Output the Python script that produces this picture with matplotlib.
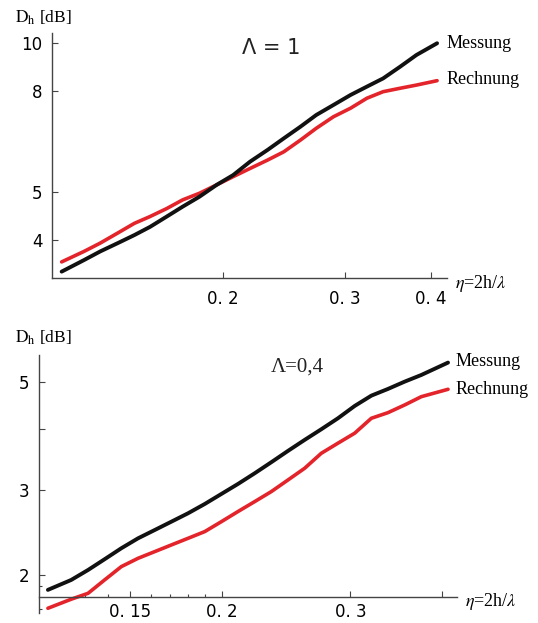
import matplotlib
matplotlib.use("Agg")
import matplotlib.pyplot as plt
from matplotlib.ticker import FixedLocator, FixedFormatter, NullLocator

plt.rcParams["mathtext.fontset"] = "stix"

# --- Lambda = 1 (oben) ---
ETA_TOP = [0.117, 0.126, 0.133, 0.141, 0.149, 0.157, 0.166, 0.175, 0.185,
           0.196, 0.207, 0.219, 0.232, 0.245, 0.259, 0.273, 0.289, 0.306,
           0.323, 0.341, 0.361, 0.381, 0.408]
MESSUNG_TOP = [3.45, 3.64, 3.79, 3.94, 4.09, 4.25, 4.46, 4.67, 4.89,
               5.17, 5.41, 5.76, 6.08, 6.42, 6.78, 7.16, 7.50, 7.86,
               8.17, 8.49, 8.97, 9.47, 10.0]
RECHNUNG_TOP = [3.61, 3.79, 3.94, 4.13, 4.32, 4.46, 4.63, 4.82, 4.97,
                5.17, 5.37, 5.58, 5.80, 6.03, 6.37, 6.73, 7.10, 7.39,
                7.74, 7.98, 8.11, 8.23, 8.40]

# --- Lambda = 0,4 (unten) ---
ETA_BOT = [0.1157, 0.1245, 0.1313, 0.1383, 0.1458, 0.1537, 0.1620, 0.1707,
           0.1799, 0.1896, 0.1998, 0.2105, 0.2219, 0.2338, 0.2464, 0.2597,
           0.2737, 0.2884, 0.3040, 0.3204, 0.3376, 0.3558, 0.3750, 0.4079]
MESSUNG_BOT = [1.862, 1.952, 2.047, 2.154, 2.270, 2.380, 2.476, 2.576,
               2.681, 2.802, 2.939, 3.082, 3.243, 3.418, 3.607, 3.801,
               3.999, 4.213, 4.467, 4.692, 4.844, 5.015, 5.177, 5.491]
RECHNUNG_BOT = [1.706, 1.781, 1.832, 1.952, 2.080, 2.164, 2.234, 2.306,
                2.380, 2.457, 2.576, 2.703, 2.834, 2.972, 3.141, 3.321,
                3.567, 3.742, 3.924, 4.213, 4.327, 4.488, 4.669, 4.836]

XTICKS_TOP = [0.2, 0.3, 0.4]
XLABELS_TOP = ["0. 2", "0. 3", "0. 4"]
YTICKS_TOP = [4, 5, 8, 10]
YLABELS_TOP = ["4", "5", "8", "10"]

XTICKS_BOT = [0.15, 0.2, 0.3, 0.4]
XLABELS_BOT = ["0. 15", "0. 2", "0. 3", ""]
XMINOR_BOT = [0.13, 0.14, 0.16, 0.17, 0.18, 0.19]
YTICKS_BOT = [2, 3, 4, 5]
YLABELS_BOT = ["2", "3", "", "5"]
YMINOR_BOT = [1.7, 1.9]

BLACK = "#111111"
RED = "#e3242b"
AXIS = "#444444"

fig = plt.figure(figsize=(5.38, 6.23), dpi=100)
W, H = 538, 623


def px_axes(left, top, right, bottom):
    return fig.add_axes([left / W, 1 - bottom / H, (right - left) / W, (bottom - top) / H])


def style_axes(ax, xlim, ylim, xaxis_at, xpad):
    ax.set_xscale("log")
    ax.set_yscale("log")
    ax.set_xlim(*xlim)
    ax.set_ylim(*ylim)
    for s in ["top", "right"]:
        ax.spines[s].set_visible(False)
    ax.spines["bottom"].set_position(("data", xaxis_at))
    for s in ["left", "bottom"]:
        ax.spines[s].set_color(AXIS)
        ax.spines[s].set_linewidth(1.0)
    ax.tick_params(which="both", direction="in", color=AXIS, width=0.8)
    ax.tick_params(which="major", length=4)
    ax.tick_params(which="minor", length=2.5)
    ax.tick_params(axis="x", pad=xpad, labelsize=12)
    ax.tick_params(axis="y", pad=7, labelsize=12)
    ax.patch.set_alpha(0)


# oberes Diagramm
ax1 = px_axes(52, 33, 447, 278)
style_axes(ax1, (0.1133, 0.4217), (3.349, 10.49), 3.349, 9)
ax1.plot(ETA_TOP, RECHNUNG_TOP, color=RED, lw=2.6, solid_capstyle="round")
ax1.plot(ETA_TOP, MESSUNG_TOP, color=BLACK, lw=2.8, solid_capstyle="round")
ax1.xaxis.set_major_locator(FixedLocator(XTICKS_TOP))
ax1.xaxis.set_major_formatter(FixedFormatter(XLABELS_TOP))
ax1.xaxis.set_minor_locator(NullLocator())
ax1.yaxis.set_major_locator(FixedLocator(YTICKS_TOP))
ax1.yaxis.set_major_formatter(FixedFormatter(YLABELS_TOP))
ax1.yaxis.set_minor_locator(NullLocator())

# unteres Diagramm
ax2 = px_axes(39, 355, 457, 613)
style_axes(ax2, (0.1125, 0.4196), (1.668, 5.693), 1.798, 4)
ax2.plot(ETA_BOT, RECHNUNG_BOT, color=RED, lw=2.6, solid_capstyle="round")
ax2.plot(ETA_BOT, MESSUNG_BOT, color=BLACK, lw=2.8, solid_capstyle="round")
ax2.xaxis.set_major_locator(FixedLocator(XTICKS_BOT))
ax2.xaxis.set_major_formatter(FixedFormatter(XLABELS_BOT))
ax2.xaxis.set_minor_locator(FixedLocator(XMINOR_BOT))
ax2.xaxis.set_minor_formatter(FixedFormatter([""] * len(XMINOR_BOT)))
ax2.yaxis.set_major_locator(FixedLocator(YTICKS_BOT))
ax2.yaxis.set_major_formatter(FixedFormatter(YLABELS_BOT))
ax2.yaxis.set_minor_locator(FixedLocator(YMINOR_BOT))
ax2.yaxis.set_minor_formatter(FixedFormatter([""] * len(YMINOR_BOT)))

serif = "Liberation Serif"

# Beschriftungen (Pixelkoordinaten der Abbildung)
def fig_text(x, y, s, **kw):
    fig.text(x / W, 1 - y / H, s, **kw)


for y in (18, 338):
    fig_text(15, y, r"$\mathrm{D_h}$ [dB]", family=serif, fontsize=12.5, va="center")

fig_text(447, 43, "Messung", family=serif, fontsize=13, va="center")
fig_text(447, 80, "Rechnung", family=serif, fontsize=13, va="center")
fig_text(456, 361, "Messung", family=serif, fontsize=13, va="center")
fig_text(456, 389, "Rechnung", family=serif, fontsize=13, va="center")

fig_text(455, 284, r"$\eta$=2h/$\lambda$", family=serif, fontsize=13, va="center")
fig_text(465, 601, r"$\eta$=2h/$\lambda$", family=serif, fontsize=13, va="center")

fig_text(271, 48, "Λ = 1", fontsize=15, ha="center", va="center", color="#222222")
fig_text(297, 367, "Λ=0,4", family=serif, fontsize=15, ha="center", va="center",
         color="#222222")

fig.savefig("out.png", dpi=100)
